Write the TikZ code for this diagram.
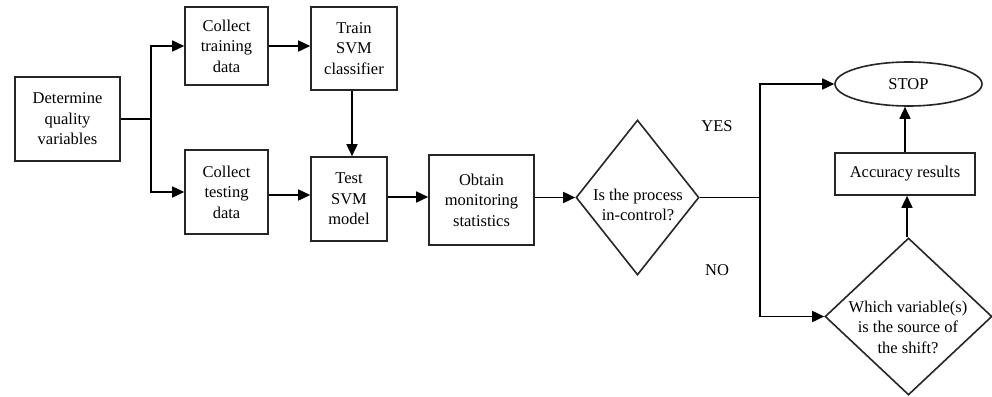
\documentclass[tikz,border=0pt]{standalone}
\usepackage{fontspec}
\setmainfont{Liberation Serif}
\usetikzlibrary{shapes.geometric,arrows.meta}
\begin{document}
\begin{tikzpicture}[x=1pt,y=-1pt,
  every node/.style={font=\fontsize{16.5}{20.5}\selectfont},
  box/.style={draw=black!85,line width=1.6pt,rectangle,align=center,inner sep=0pt},
  dia/.style={draw=black!85,line width=1.6pt,diamond,inner sep=0pt},
  txt/.style={align=center,inner sep=0pt},
  arr/.style={line width=1.6pt,-{Triangle[length=12pt,width=11pt]}},
  ln/.style={line width=1.6pt}]
\useasboundingbox (0,0) rectangle (992,396);
\fill[white] (0,0) rectangle (992,396);

\node[box,minimum width=105pt,minimum height=84pt] (det) at (67.5,119) {Determine\\quality\\variables};
\node[box,minimum width=83pt,minimum height=78pt] (ctrain) at (226.5,46) {Collect\\training\\data};
\node[box,minimum width=86pt,minimum height=83pt] (train) at (354,48.5) {Train\\SVM\\classifier};
\node[box,minimum width=83pt,minimum height=84pt] (ctest) at (226.5,192) {Collect\\testing\\data};
\node[box,minimum width=76pt,minimum height=84pt] (test) at (349,199) {Test\\SVM\\model};
\node[box,minimum width=105pt,minimum height=90pt] (obtain) at (481.5,200) {Obtain\\monitoring\\statistics};
\node[dia,minimum width=123pt,minimum height=155pt] (d1) at (637.5,197.5) {};
\node[txt] (d1t) at (638,205) {Is the process\\in-control?};
\node[draw=black!85,line width=1.6pt,ellipse,minimum width=147pt,minimum height=44pt,inner sep=0pt] (stop) at (908.5,84) {STOP};
\node[box,minimum width=140pt,minimum height=42pt] (acc) at (905,174) {Accuracy results};
\node[dia,minimum width=167pt,minimum height=157pt] (d2) at (908.5,316.5) {};
\node[txt] (d2t) at (908,327) {Which variable(s)\\is the source of\\the shift?};
\node[txt] (yes) at (717,126) {YES};
\node[txt] (no) at (717,270) {NO};

\coordinate (j1) at (151,119);
\coordinate (j2) at (760,197.5);

\draw[ln] (det.east) -- (j1);
\draw[arr] (j1) |- (ctrain.west);
\draw[arr] (j1) |- (ctest.west);
\draw[arr] (ctrain.east) -- (ctrain.east -| train.west);
\draw[arr] (train.south -| 352,0) -- (352,0 |- test.north);
\draw[arr] (ctest.east |- 0,195) -- (test.west |- 0,195);
\draw[arr] (test.east |- 0,197) -- (obtain.west |- 0,197);
\draw[arr] (obtain.east |- d1.west) -- (d1.west);
\draw[ln] (d1.east) -- (j2);
\draw[arr] (j2) |- (stop.west);
\draw[arr] (j2) |- (d2.west);
\draw[arr] (d2.north -| 907,0) -- (907,0 |- acc.south);
\draw[arr] (acc.north -| 905,0) -- (905,0 |- stop.south);
\end{tikzpicture}
\end{document}
